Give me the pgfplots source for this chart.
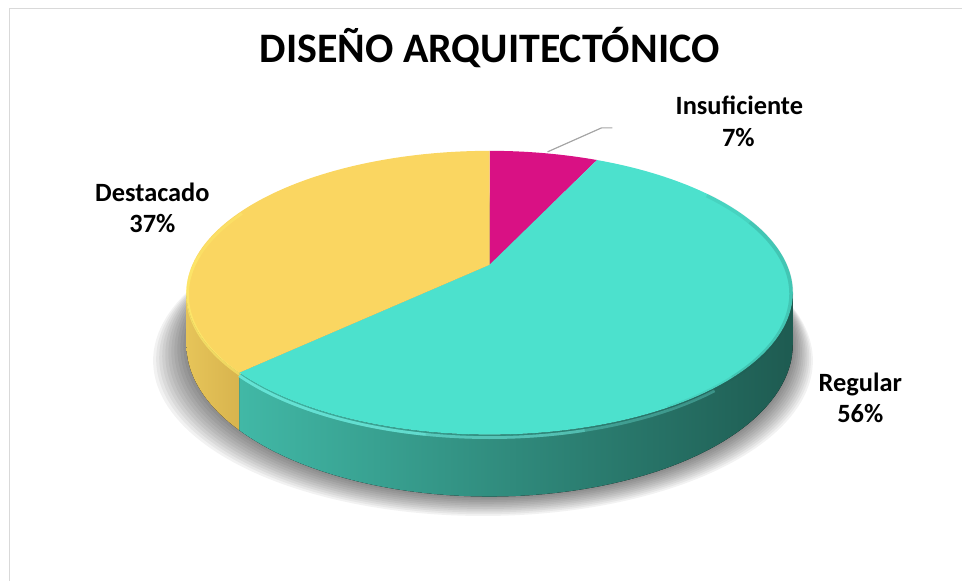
\documentclass[border=0pt]{standalone}
\usepackage{pgfplots}
\pgfplotsset{compat=1.18}
\usepackage{pgfplotstable}
\usepackage{fontspec}
\setmainfont{Carlito}

\definecolor{cIns}{HTML}{D91184}
\definecolor{cReg}{HTML}{4CE1CD}
\definecolor{cDes}{HTML}{FAD661}
\definecolor{cRegL}{HTML}{41B8A6}
\definecolor{cRegM}{HTML}{2A7D70}
\definecolor{cRegD}{HTML}{1E5B51}
\definecolor{cDesL}{HTML}{E6C459}
\definecolor{cDesD}{HTML}{D8B44E}
\definecolor{frameg}{HTML}{D9D9D9}
\definecolor{leader}{HTML}{A6A6A6}
\definecolor{hiReg}{HTML}{78FAEE}
\definecolor{hiDes}{HTML}{FFF06E}

\pgfplotstableread{
label value
Insuficiente 7
Regular 56
Destacado 37
}\piedata

\pgfplotstablegetelem{0}{value}\of\piedata \pgfmathsetmacro\vA{\pgfplotsretval}
\pgfplotstablegetelem{1}{value}\of\piedata \pgfmathsetmacro\vB{\pgfplotsretval}
\pgfplotstablegetelem{2}{value}\of\piedata \pgfmathsetmacro\vC{\pgfplotsretval}
\pgfmathsetmacro\thA{3.6*\vA}
\pgfmathsetmacro\thB{\thA+3.6*\vB}
\pgfmathsetmacro\thC{\thB+3.6*\vC}

\begin{document}
\begin{tikzpicture}[declare function={
  px(\t)=490+297.5*sin(\t)/(1+0.197*cos(\t));
  pt(\t)=316+136.5*cos(\t)/(1+0.197*cos(\t));
  pb(\t)=316+(136.5*cos(\t)-49.8)/(1+0.197*cos(\t));
  sx(\t,\s)=490+\s*297.5*sin(\t)/(1+0.197*cos(\t));
  sy(\t,\h)=316+(136.5*cos(\t)-\h)/(1+0.197*cos(\t));
}]
\begin{axis}[
  scale only axis, width=481.5pt, height=290.5pt,
  xmin=0, xmax=963, ymin=0, ymax=581,
  hide axis, clip=false,
]
\path (axis cs:0,0) rectangle (axis cs:963,581);
% frame
\draw[frameg, line width=0.8pt] (axis cs:9.5,0) -- (axis cs:9.5,572.5) -- (axis cs:963,572.5);

% shadow
\pgfplotsinvokeforeach{0,...,11}{
  \fill[black, opacity=0.05] plot[domain=0:360, samples=120, smooth]
     (axis cs:{sx(\x,1.0+0.008*#1)-0.6*#1},{sy(\x,50+1.4*#1)}) -- cycle;
}

% side walls
\fill[left color=cRegL, middle color=cRegM, right color=cRegD]
  plot[domain=\thB:101.36, samples=60] (axis cs:{px(\x)},{pt(\x)})
  -- plot[domain=101.36:\thB, samples=60] (axis cs:{px(\x)},{pb(\x)}) -- cycle;
\fill[left color=cDesL, right color=cDesD]
  plot[domain=258.64:\thB, samples=20] (axis cs:{px(\x)},{pt(\x)})
  -- plot[domain=\thB:258.64, samples=20] (axis cs:{px(\x)},{pb(\x)}) -- cycle;

% top slices
\fill[cIns] (axis cs:490,316) -- plot[domain=0:\thA, samples=20] (axis cs:{px(\x)},{pt(\x)}) -- cycle;
\fill[cReg] (axis cs:490,316) -- plot[domain=\thA:\thB, samples=120] (axis cs:{px(\x)},{pt(\x)}) -- cycle;
\fill[cDes] (axis cs:490,316) -- plot[domain=\thB:\thC, samples=80] (axis cs:{px(\x)},{pt(\x)}) -- cycle;

% soft rim highlights (fading)
\draw[hiReg, line width=1.4pt, opacity=0.3] plot[domain=140:\thB, samples=40] (axis cs:{px(\x)},{pt(\x)-3});
\draw[hiReg, line width=1.4pt, opacity=0.3] plot[domain=165:\thB, samples=40] (axis cs:{px(\x)},{pt(\x)-3});
\draw[hiReg, line width=1.4pt, opacity=0.35] plot[domain=190:\thB, samples=40] (axis cs:{px(\x)},{pt(\x)-3});
\draw[hiDes, line width=1.4pt, opacity=0.35] plot[domain=\thB:295, samples=40] (axis cs:{px(\x)+1},{pt(\x)-2});
\draw[hiDes, line width=1.4pt, opacity=0.35] plot[domain=\thB:275, samples=40] (axis cs:{px(\x)+1},{pt(\x)-2});
% soft darker bevel on the right
\draw[cRegD, line width=2pt, opacity=0.1] plot[domain=55:150, samples=40] (axis cs:{px(\x)-1.5},{pt(\x)-1});
\draw[cRegD, line width=2pt, opacity=0.1] plot[domain=70:135, samples=40] (axis cs:{px(\x)-1.5},{pt(\x)-1});

% leader line
\draw[leader, line width=0.6pt] (axis cs:548,429) -- (axis cs:602,453) -- (axis cs:613,453);

% title and labels
\node[anchor=base, font=\bfseries\fontsize{21}{25}\selectfont] at (axis cs:490,518) {DISEÑO ARQUITECTÓNICO};
\node[anchor=base, font=\bfseries\fontsize{13.2}{16}\selectfont] at (axis cs:740,466) {Insuficiente};
\node[anchor=base, font=\bfseries\fontsize{13.2}{16}\selectfont] at (axis cs:739,434.3) {7\%};
\node[anchor=base, font=\bfseries\fontsize{13.2}{16}\selectfont] at (axis cs:152.5,379) {Destacado};
\node[anchor=base, font=\bfseries\fontsize{13.2}{16}\selectfont] at (axis cs:152.5,348) {37\%};
\node[anchor=base, font=\bfseries\fontsize{13.2}{16}\selectfont] at (axis cs:861,189) {Regular};
\node[anchor=base, font=\bfseries\fontsize{13.2}{16}\selectfont] at (axis cs:861,158) {56\%};
\end{axis}
\end{tikzpicture}
\end{document}
